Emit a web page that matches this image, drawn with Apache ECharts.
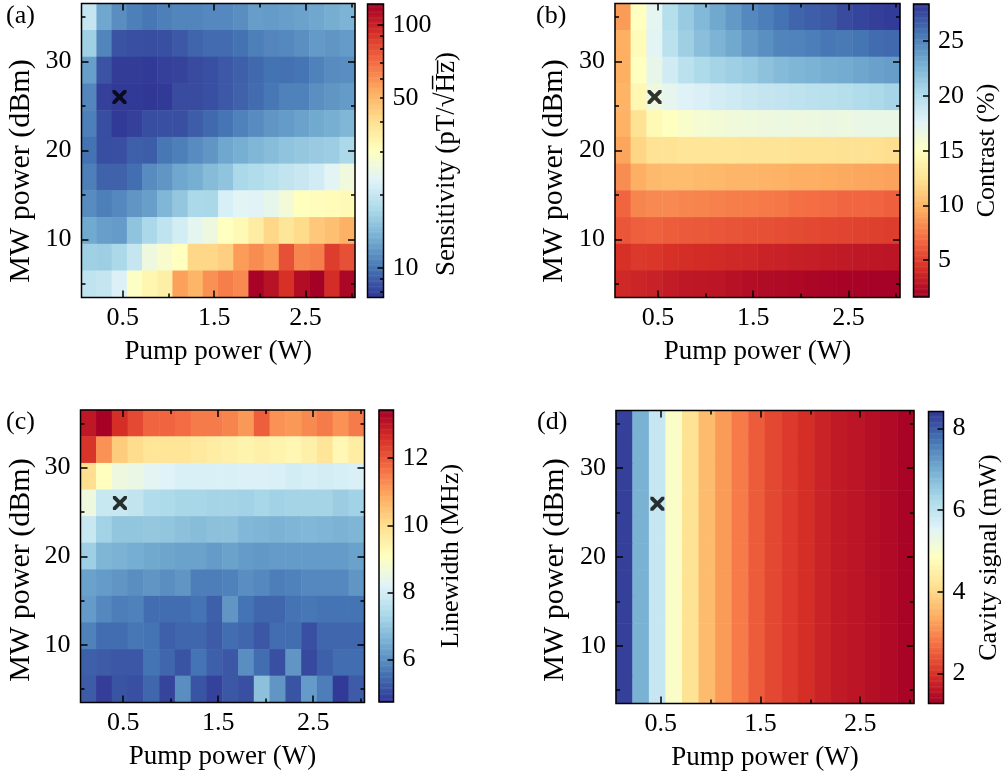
<!DOCTYPE html>
<html>
<head>
<meta charset="utf-8">
<script src="https://cdn.jsdelivr.net/npm/echarts@6/dist/echarts.min.js"></script>
<style>
  html, body { margin: 0; padding: 0; background: #fff; }
  #chart { width: 1004px; height: 777px; }
</style>
</head>
<body>
<div id="chart"></div>
<script>
// Pump power column centres (W) and MW power row centres (dBm, bottom to top)
const pumpPower = [0.133, 0.299, 0.465, 0.631, 0.797, 0.963, 1.129, 1.295, 1.461,
                   1.627, 1.793, 1.959, 2.125, 2.291, 2.457, 2.623, 2.789, 2.955];
const mwPower = [5, 8, 11, 14, 17, 20, 23, 26, 29, 32, 35];
const pumpRange = [0.05, 3.04];
const mwRange = [3.5, 36.5];

// Axis ticks
const pumpTicks = [0.5, 1.5, 2.5];
const pumpMinorTicks = [1.0, 2.0, 3.0];
const mwTicks = [10, 20, 30];
const mwMinorTicks = [5, 15, 25, 35];

// Chosen operating point
const optimum = [0.465, 26];

// Maps: each row listed from 35 dBm (top) down to 5 dBm (bottom)
const sensitivity = [ // pT/sqrt(Hz)
  [20.0, 12.8, 11.3, 10.5, 10.1, 10.5, 10.8, 10.8, 11.0, 11.0, 11.3, 12.2, 12.1, 12.3, 12.5, 12.8, 13.3, 13.8],
  [16.5, 10.8, 8.6, 8.5, 8.4, 8.5, 8.8, 9.3, 9.6, 9.6, 9.9, 10.5, 10.9, 11.0, 11.4, 12.0, 11.7, 12.1],
  [12.3, 8.6, 7.8, 7.8, 7.7, 7.9, 8.0, 8.3, 8.5, 8.8, 9.1, 9.5, 9.9, 9.8, 10.0, 10.6, 11.2, 11.3],
  [10.9, 7.9, 7.7, 7.7, 7.6, 7.7, 8.3, 8.3, 8.5, 8.8, 9.2, 9.6, 10.1, 10.6, 10.6, 11.4, 11.7, 12.1],
  [10.5, 8.4, 7.7, 7.9, 8.4, 8.5, 8.5, 9.0, 9.5, 10.0, 10.6, 11.2, 11.7, 12.1, 12.5, 13.0, 13.4, 14.0],
  [9.9, 8.4, 8.5, 9.1, 9.0, 10.1, 10.5, 11.2, 11.7, 12.8, 13.4, 14.0, 14.6, 15.2, 15.6, 15.9, 16.2, 17.5],
  [10.5, 9.2, 9.2, 9.7, 11.2, 11.7, 12.8, 13.4, 14.5, 15.2, 17.4, 18.0, 18.8, 19.6, 20.3, 21.3, 23.5, 26.5],
  [11.2, 10.5, 11.0, 11.7, 12.3, 14.0, 15.5, 17.5, 17.3, 22.0, 23.5, 23.2, 24.5, 27.0, 30.5, 31.0, 31.3, 32.0],
  [13.0, 12.3, 12.1, 15.2, 17.5, 19.5, 21.5, 24.0, 26.0, 30.4, 32.0, 36.0, 42.0, 38.0, 41.0, 46.0, 48.0, 52.0],
  [16.5, 16.3, 17.5, 20.0, 26.0, 28.5, 30.4, 42.0, 42.0, 44.0, 57.0, 61.0, 57.0, 80.0, 63.0, 65.0, 87.0, 80.0],
  [19.5, 20.0, 22.5, 29.5, 33.0, 35.0, 56.0, 51.0, 60.0, 65.0, 62.0, 120.0, 110.0, 92.0, 113.0, 122.0, 94.0, 117.0]
];

const contrast = [ // %
  [8.9, 15.0, 17.3, 19.8, 21.3, 22.3, 23.3, 24.0, 24.8, 25.3, 25.8, 26.4, 26.7, 26.9, 27.5, 27.8, 28.0, 28.2],
  [9.7, 14.7, 17.5, 19.6, 21.0, 22.0, 22.6, 23.3, 24.0, 24.5, 25.0, 25.1, 25.3, 25.6, 25.5, 25.7, 26.1, 26.2],
  [9.7, 15.0, 17.0, 18.5, 19.6, 20.2, 20.7, 21.0, 21.3, 21.8, 22.2, 22.5, 22.7, 23.0, 23.1, 23.4, 23.6, 23.8],
  [10.0, 14.3, 16.5, 17.2, 17.8, 18.0, 18.3, 18.6, 18.9, 19.1, 19.2, 19.4, 19.5, 19.7, 19.8, 20.1, 20.3, 20.6],
  [9.9, 12.6, 14.5, 15.0, 15.5, 15.9, 16.1, 16.3, 16.4, 16.5, 16.6, 16.5, 16.6, 16.7, 16.6, 16.8, 16.9, 16.9],
  [9.3, 11.8, 12.6, 12.6, 12.8, 12.8, 12.8, 12.8, 12.7, 12.7, 12.7, 12.6, 12.6, 12.6, 12.5, 12.5, 12.4, 12.3],
  [8.3, 9.8, 10.3, 10.4, 10.4, 10.3, 10.2, 10.1, 10.1, 10.0, 9.9, 9.8, 9.8, 9.6, 9.5, 9.4, 9.3, 9.2],
  [6.6, 8.0, 8.2, 8.2, 8.0, 7.9, 7.8, 7.7, 7.6, 7.5, 7.4, 7.1, 7.0, 6.9, 6.7, 6.7, 6.6, 6.4],
  [6.0, 6.4, 6.5, 6.3, 6.2, 6.1, 6.0, 5.9, 5.8, 5.7, 5.6, 5.5, 5.4, 5.3, 5.2, 5.1, 5.0, 4.9],
  [4.3, 4.7, 4.6, 4.3, 4.2, 4.1, 4.0, 3.9, 3.8, 3.6, 3.5, 3.4, 3.3, 3.2, 3.1, 3.0, 2.9, 2.8],
  [3.9, 3.7, 3.5, 3.2, 3.0, 2.9, 2.8, 2.6, 2.4, 2.3, 2.2, 2.1, 2.0, 1.9, 1.8, 1.8, 1.7, 1.7]
];

const linewidth = [ // MHz
  [13.0, 13.4, 12.6, 12.2, 11.8, 11.8, 11.7, 11.5, 11.5, 11.4, 11.1, 11.9, 11.2, 11.1, 11.3, 11.5, 11.2, 11.5],
  [12.5, 11.2, 10.3, 10.0, 9.8, 9.8, 9.8, 9.7, 9.6, 9.5, 9.4, 9.5, 9.4, 9.3, 9.5, 9.8, 9.3, 9.6],
  [9.95, 9.1, 8.6, 8.5, 8.3, 8.2, 8.1, 8.1, 8.1, 8.1, 8.15, 8.15, 8.1, 8.0, 8.05, 8.0, 8.05, 8.1],
  [8.6, 7.8, 7.8, 7.7, 7.45, 7.4, 7.3, 7.3, 7.25, 7.25, 7.2, 7.3, 7.2, 7.25, 7.25, 7.25, 7.1, 7.2],
  [7.8, 7.2, 6.95, 6.95, 7.0, 6.95, 6.85, 6.8, 6.85, 6.85, 6.7, 6.65, 6.6, 6.65, 6.7, 6.65, 6.6, 6.65],
  [7.15, 6.65, 6.6, 6.5, 6.4, 6.35, 6.3, 6.3, 6.2, 6.3, 6.2, 6.15, 6.2, 6.2, 6.2, 6.2, 6.2, 6.3],
  [6.3, 6.2, 6.1, 6.0, 6.1, 6.0, 6.1, 5.75, 5.75, 5.8, 6.0, 5.9, 5.75, 5.8, 5.9, 5.9, 5.9, 6.1],
  [6.2, 5.9, 5.75, 5.8, 5.5, 5.5, 5.5, 5.6, 5.3, 6.1, 5.6, 5.4, 5.4, 5.6, 5.65, 5.6, 5.6, 5.6],
  [5.8, 5.5, 5.5, 5.65, 5.6, 5.3, 5.4, 5.4, 5.25, 5.5, 5.4, 5.2, 5.5, 5.5, 5.1, 5.4, 5.4, 5.4],
  [5.3, 5.25, 5.2, 5.2, 5.6, 5.4, 5.15, 5.6, 5.3, 5.2, 6.0, 5.5, 5.1, 6.1, 5.0, 5.3, 5.5, 5.5],
  [5.25, 4.85, 5.15, 5.1, 5.4, 4.95, 6.0, 5.15, 4.9, 5.2, 5.1, 6.85, 6.1, 5.15, 6.2, 5.75, 4.8, 5.25]
];

// Cavity signal (mW) per pump column; it does not change with MW power
const cavitySignal = [8.3, 6.9, 5.9, 4.95, 4.2, 3.6, 3.2, 2.85, 2.5, 2.27, 2.1, 1.95, 1.78, 1.66, 1.58, 1.5, 1.42, 1.32];

// Colour-bar ranges and ticks
const sensRange = [7.57, 122];
const sensTicks = [10, 50, 100];
const sensMajorTicks = [10, 100];
const sensMinorTicks = [8, 9, 20, 30, 40, 50, 60, 70, 80, 90];
const contrastRange = [1.64, 28.4];
const contrastTicks = [5, 10, 15, 20, 25];
const linewidthRange = [4.74, 13.43];
const linewidthTicks = [6, 8, 10, 12];
const cavityRange = [1.27, 8.41];
const cavityTicks = [2, 4, 6, 8];

// RdYlBu colour map, red (low) to blue (high)
const RdYlBu = ['#a50026', '#d73027', '#f46d43', '#fdae61', '#fee090', '#ffffbf',
                '#e0f3f8', '#abd9e9', '#74add1', '#4575b4', '#313695'];
const RdYlBu_r = RdYlBu.slice().reverse();

const FONT = 'Liberation Serif';
const black = '#000';
const tickLine = { color: black, width: 1.5 };
const labelFont = { color: black, fontFamily: FONT, fontSize: 26 };
const nameFont = { color: black, fontFamily: FONT, fontSize: 26 };

const grids = [], xAxes = [], yAxes = [], series = [], visualMaps = [], titles = [], texts = [];

const crossPath = 'path://M0,0 L2,0 L5,3 L8,0 L10,0 L10,2 L7,5 L10,8 L10,10 L8,10 L5,7 L2,10 L0,10 L0,8 L3,5 L0,2 Z';

function addGrid(box) {
  grids.push({
    left: box[0], top: box[1], width: box[2], height: box[3],
    show: true, z: 10, borderColor: black, borderWidth: 1.5,
    backgroundColor: 'transparent'
  });
  return grids.length - 1;
}

// vertical title reading bottom to top
function sideTitle(text, cx, cy, size) {
  texts.push({
    type: 'text', x: cx, y: cy, rotation: Math.PI / 2, silent: true, z: 20,
    style: { text: text, fill: black, font: size + 'px "' + FONT + '"',
             textAlign: 'center', textVerticalAlign: 'middle' }
  });
}

function tickAxis(base, extra) {
  return Object.assign({}, base, extra);
}

function addPanel(p) {
  const g = addGrid(p.box);

  const xCat = xAxes.push({ type: 'category', gridIndex: g, data: pumpPower.map(String), show: false }) - 1;
  const yCat = yAxes.push({ type: 'category', gridIndex: g, data: mwPower.map(String), show: false }) - 1;

  const xBase = { type: 'value', gridIndex: g, min: pumpRange[0], max: pumpRange[1], z: 12,
                  splitLine: { show: false }, axisLine: { show: false } };
  const yBase = { type: 'value', gridIndex: g, min: mwRange[0], max: mwRange[1], z: 12,
                  splitLine: { show: false }, axisLine: { show: false } };

  const xVal = xAxes.push(tickAxis(xBase, {
    position: 'bottom',
    axisTick: { inside: true, length: 7, customValues: pumpTicks, lineStyle: tickLine },
    axisLabel: Object.assign({ customValues: pumpTicks, margin: 8, formatter: v => v.toFixed(1) }, labelFont),
    name: 'Pump power (W)', nameLocation: 'middle', nameGap: 41,
    nameTextStyle: Object.assign({}, nameFont, { fontSize: 27 })
  })) - 1;
  xAxes.push(tickAxis(xBase, { position: 'bottom',
    axisTick: { inside: true, length: 4, customValues: pumpMinorTicks, lineStyle: tickLine }, axisLabel: { show: false } }));
  xAxes.push(tickAxis(xBase, { position: 'top',
    axisTick: { inside: true, length: 7, customValues: pumpTicks, lineStyle: tickLine }, axisLabel: { show: false } }));
  xAxes.push(tickAxis(xBase, { position: 'top',
    axisTick: { inside: true, length: 4, customValues: pumpMinorTicks, lineStyle: tickLine }, axisLabel: { show: false } }));

  const yVal = yAxes.push(tickAxis(yBase, {
    position: 'left',
    axisTick: { inside: true, length: 7, customValues: mwTicks, lineStyle: tickLine },
    axisLabel: Object.assign({ customValues: mwTicks, margin: 10 }, labelFont)
  })) - 1;
  yAxes.push(tickAxis(yBase, { position: 'left',
    axisTick: { inside: true, length: 4, customValues: mwMinorTicks, lineStyle: tickLine }, axisLabel: { show: false } }));
  yAxes.push(tickAxis(yBase, { position: 'right',
    axisTick: { inside: true, length: 7, customValues: mwTicks, lineStyle: tickLine }, axisLabel: { show: false } }));
  yAxes.push(tickAxis(yBase, { position: 'right',
    axisTick: { inside: true, length: 4, customValues: mwMinorTicks, lineStyle: tickLine }, axisLabel: { show: false } }));

  sideTitle('MW power (dBm)', p.yTitlePos[0], p.yTitlePos[1], 30);

  // heat map cells
  const cells = [];
  p.rows.forEach((row, r) => {
    const yi = mwPower.length - 1 - r;
    row.forEach((v, xi) => cells.push([xi, yi, p.toScale(v)]));
  });
  const mainIdx = series.push({
    type: 'heatmap', xAxisIndex: xCat, yAxisIndex: yCat, data: cells,
    progressive: 0, silent: true, emphasis: { disabled: true }
  }) - 1;

  series.push({
    type: 'scatter', xAxisIndex: xVal, yAxisIndex: yVal, data: [optimum],
    symbol: crossPath, symbolSize: 14, itemStyle: { color: black }, z: 20, silent: true
  });

  // colour bar
  const cg = addGrid(p.cbBox);
  const lo = p.toScale(p.range[0]), hi = p.toScale(p.range[1]);
  const nBins = 240;
  const bins = [], binCells = [];
  for (let i = 0; i < nBins; i++) {
    bins.push(String(i));
    binCells.push([0, i, lo + (hi - lo) * (i + 0.5) / nBins]);
  }
  const cx = xAxes.push({ type: 'category', gridIndex: cg, data: ['c'], show: false }) - 1;
  const cy = yAxes.push({ type: 'category', gridIndex: cg, data: bins, show: false }) - 1;
  const cbIdx = series.push({
    type: 'heatmap', xAxisIndex: cx, yAxisIndex: cy, data: binCells,
    progressive: 0, silent: true, emphasis: { disabled: true }
  }) - 1;

  const cbBase = { type: 'value', gridIndex: cg, min: lo, max: hi, position: 'right', z: 12,
                   splitLine: { show: false }, axisLine: { show: false } };
  xAxes.push({ type: 'value', gridIndex: cg, show: false });
  const cbAxis = Object.assign({}, cbBase, {
    axisTick: { inside: true, length: 6, customValues: p.majorTicks.map(p.toScale), lineStyle: tickLine },
    axisLabel: Object.assign({ customValues: p.labelTicks.map(p.toScale), margin: 9, formatter: p.fmt }, labelFont)
  });
  if (p.nameGap) {
    Object.assign(cbAxis, { name: p.title, nameLocation: 'middle', nameRotate: 90,
                            nameGap: p.nameGap, nameTextStyle: nameFont });
  } else {
    sideTitle(p.title, p.titlePos[0], p.titlePos[1], 27);
  }
  yAxes.push(cbAxis);
  if (p.minorTicks) {
    yAxes.push(Object.assign({}, cbBase, {
      axisTick: { inside: true, length: 3.5, customValues: p.minorTicks.map(p.toScale), lineStyle: tickLine },
      axisLabel: { show: false }
    }));
  }

  visualMaps.push({
    type: 'continuous', show: false, dimension: 2, min: lo, max: hi,
    seriesIndex: [mainIdx, cbIdx], inRange: { color: p.colors }
  });

  titles.push({ text: p.letter, left: p.letterPos[0], top: p.letterPos[1], padding: 0,
                textStyle: Object.assign({ fontWeight: 'normal' }, nameFont) });
}

const identity = v => v;
const plain = v => String(Math.round(v));

addPanel({
  letter: '(a)', letterPos: [6, 3], yTitlePos: [21, 171],
  box: [81.5, 3.5, 273.5, 294], cbBox: [367.5, 4, 16, 293.5],
  rows: sensitivity, range: sensRange, toScale: Math.log10, colors: RdYlBu_r,
  majorTicks: sensMajorTicks, minorTicks: sensMinorTicks, labelTicks: sensTicks,
  fmt: v => String(Math.round(Math.pow(10, v))),
  title: 'Sensitivity (pT/\u221AH\u0305z\u0305)', titlePos: [447, 164]
});
addPanel({
  letter: '(b)', letterPos: [536, 3], yTitlePos: [554, 171],
  box: [615, 3.5, 285, 294], cbBox: [913.5, 4, 15.5, 293],
  rows: contrast, range: contrastRange, toScale: identity, colors: RdYlBu,
  majorTicks: contrastTicks, labelTicks: contrastTicks, fmt: plain,
  title: 'Contrast (%)', nameGap: 45
});
addPanel({
  letter: '(c)', letterPos: [6, 409], yTitlePos: [21, 570],
  box: [80.5, 410, 284, 292.5], cbBox: [379, 410, 14.5, 292],
  rows: linewidth, range: linewidthRange, toScale: identity, colors: RdYlBu_r,
  majorTicks: linewidthTicks, labelTicks: linewidthTicks, fmt: plain,
  title: 'Linewidth (MHz)', nameGap: 45
});
addPanel({
  letter: '(d)', letterPos: [537, 409], yTitlePos: [555, 570],
  box: [616, 410.5, 298, 293], cbBox: [928.5, 411.5, 15, 292],
  rows: mwPower.map(() => cavitySignal), range: cavityRange, toScale: identity, colors: RdYlBu,
  majorTicks: cavityTicks, labelTicks: cavityTicks, fmt: plain,
  title: 'Cavity signal (mW)', nameGap: 33
});

const chart = echarts.init(document.getElementById('chart'), null, { renderer: 'canvas' });
chart.setOption({
  animation: false,
  backgroundColor: '#fff',
  title: titles,
  grid: grids,
  xAxis: xAxes,
  yAxis: yAxes,
  visualMap: visualMaps,
  series: series,
  graphic: { elements: texts }
});
</script>
</body>
</html>
